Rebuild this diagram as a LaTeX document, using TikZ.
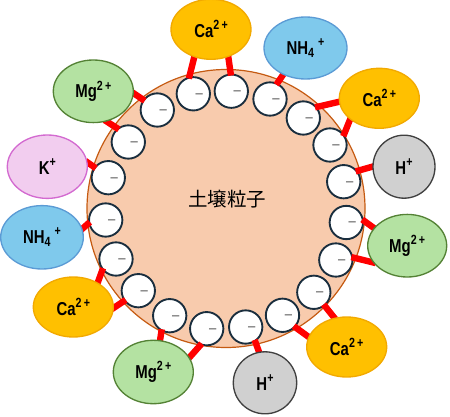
\documentclass[tikz,border=0pt]{standalone}
\usepackage{fontspec}
\newfontfamily\ionfont[FakeStretch=0.8]{Liberation Sans}
\newfontfamily\cjkfont{Noto Sans CJK JP}
\usetikzlibrary{shapes.geometric}
\pgfdeclarelayer{back}
\pgfdeclarelayer{disk}
\pgfdeclarelayer{bondlayer}
\pgfsetlayers{back,disk,bondlayer,main}
\definecolor{soilfill}{HTML}{F8CBAD}
\definecolor{soilline}{HTML}{C55A11}
\definecolor{negline}{HTML}{1A2E3E}
\definecolor{cafill}{HTML}{FFC000}
\definecolor{caline}{HTML}{F2A900}
\definecolor{mgfill}{HTML}{B4E2A2}
\definecolor{mgline}{HTML}{548235}
\definecolor{nhfill}{HTML}{7FC9EC}
\definecolor{nhline}{HTML}{5B9BD5}
\definecolor{kfill}{HTML}{F2CDEF}
\definecolor{kline}{HTML}{D36AD0}
\definecolor{hfill}{HTML}{D0D0D0}
\definecolor{hline}{HTML}{404040}
\definecolor{bondred}{HTML}{FF0000}
\definecolor{minusgray}{HTML}{7F7F7F}
\tikzset{
  soil/.style={circle, fill=soilfill, draw=soilline, line width=0.9pt, minimum size=208.5pt, inner sep=0pt},
  soiltext/.style={font=\cjkfont\fontsize{14.6}{16}\selectfont, inner sep=0pt},
  neg/.style={circle, draw=negline, fill=white, line width=1.4pt, minimum size=25pt, inner sep=0pt,
    label={[text=minusgray, xshift=4.5pt, yshift=-2.2pt, inner sep=0pt, font=\ionfont\fontsize{14}{14}\selectfont]center:−}},
  ion/.style={ellipse, line width=1pt, inner sep=0pt, font=\ionfont\bfseries\fontsize{14}{16}\selectfont},
  esize/.style 2 args={minimum width=#1*1.5pt, minimum height=#2*1.5pt},
  ca/.style={ion, fill=cafill, draw=caline},
  mg/.style={ion, fill=mgfill, draw=mgline},
  nh/.style={ion, fill=nhfill, draw=nhline},
  kion/.style={ion, fill=kfill, draw=kline},
  hion/.style={ion, fill=hfill, draw=hline},
  bond/.style={draw=bondred, line width=4.8pt, shorten >=-2pt, shorten <=-1.5pt},
}
\newcommand{\supx}[1]{\raisebox{0.42em}{\fontsize{10}{10}\selectfont #1}}
\newcommand{\subx}[1]{\raisebox{-0.18em}{\fontsize{10}{10}\selectfont #1}}
\newcommand{\caText}{Ca\supx{2\,+}}
\newcommand{\mgText}{Mg\supx{2\,+}}
\newcommand{\nhText}{NH\subx{4}\supx{\hspace{3pt}+}}
\newcommand{\kText}{K\supx{+}}
\newcommand{\hText}{H\supx{+}}
\begin{document}
\begin{tikzpicture}[x=0.75pt, y=-0.75pt]
\useasboundingbox (0,0) rectangle (450,417);
\begin{pgfonlayer}{back}
  \node[soil] (soil) at (226,208.5) {};
  \node[soiltext] (soillabel) at (227,199) {土壌粒子};
\end{pgfonlayer}
\begin{pgfonlayer}{disk}
  \node[neg] (c1) at (193.3,93.8) {};
  \node[neg] (c2) at (231.3,91.2) {};
  \node[neg] (c3) at (270,99) {};
  \node[neg] (c4) at (303.3,118) {};
  \node[neg] (c5) at (330,145) {};
  \node[neg] (c6) at (343.7,181.7) {};
  \node[neg] (c7) at (346.3,222.5) {};
  \node[neg] (c8) at (335.8,260) {};
  \node[neg] (c9) at (313.8,292.3) {};
  \node[neg] (c10) at (282.5,315.3) {};
  \node[neg] (c11) at (245.7,327) {};
  \node[neg] (c12) at (206.7,328.7) {};
  \node[neg] (c13) at (169.7,315.7) {};
  \node[neg] (c14) at (138.3,290.7) {};
  \node[neg] (c15) at (116,259) {};
  \node[neg] (c16) at (105.7,220) {};
  \node[neg] (c17) at (108.3,177.7) {};
  \node[neg] (c18) at (128.3,142) {};
  \node[neg] (c19) at (157.3,110) {};
\end{pgfonlayer}
\node[ca, esize={40}{30}] (caT) at (211,29.3) {\caText};
\node[nh, esize={41.5}{31}] (nhT) at (305.5,48) {\nhText};
\node[ca, esize={40}{30}] (caR) at (379.3,98.3) {\caText};
\node[hion, esize={31}{31.5}] (hR) at (404,166.7) {\hText};
\node[mg, esize={39.5}{31.3}] (mgR) at (407.2,245.7) {\mgText};
\node[ca, esize={40}{30}] (caBR) at (346.7,347) {\caText};
\node[hion, esize={31.7}{31}] (hB) at (265,382.8) {\hText};
\node[mg, esize={40}{31.7}] (mgB) at (153.3,372) {\mgText};
\node[ca, esize={40}{30}] (caL) at (73.3,307) {\caText};
\node[nh, esize={41.3}{31.7}] (nhL) at (42,237.3) {\nhText};
\node[kion, esize={40}{31.7}] (kL) at (47.3,166.7) {\kText};
\node[mg, esize={40}{31.3}] (mgL) at (93.3,91.3) {\mgText};
\begin{pgfonlayer}{bondlayer}
  \draw[bond] (c1.103) -- (caT.239);
  \draw[bond] (c2.92) -- (caT.302);
  \draw[bond] (c3.65) -- (nhT.230);
  \draw[bond] (c4.39) -- (caR.185);
  \draw[bond] (c5.37) -- (caR.216);
  \draw[bond] (c6.38) -- (hR.180);
  \draw[bond] (c7.6) -- (mgR.152);
  \draw[bond] (c8.8) -- (mgR.206);
  \draw[bond] (c9.-51) -- (caBR.113);
  \draw[bond] (c10.-43) -- (caBR.165);
  \draw[bond] (c11.-57) -- (hB.101);
  \draw[bond] (c12.249) -- (mgB.22);
  \draw[bond] (c13.242) -- (mgB.78);
  \draw[bond] (c14.216) -- (caL.359);
  \draw[bond] (c15.219) -- (caL.45);
  \draw[bond] (c16.191) -- (nhL.12);
  \draw[bond] (c17.143) -- (kL.6);
  \draw[bond] (c18.129) -- (mgL.294);
  \draw[bond] (c19.144) -- (mgL.357);
\end{pgfonlayer}
\end{tikzpicture}
\end{document}
